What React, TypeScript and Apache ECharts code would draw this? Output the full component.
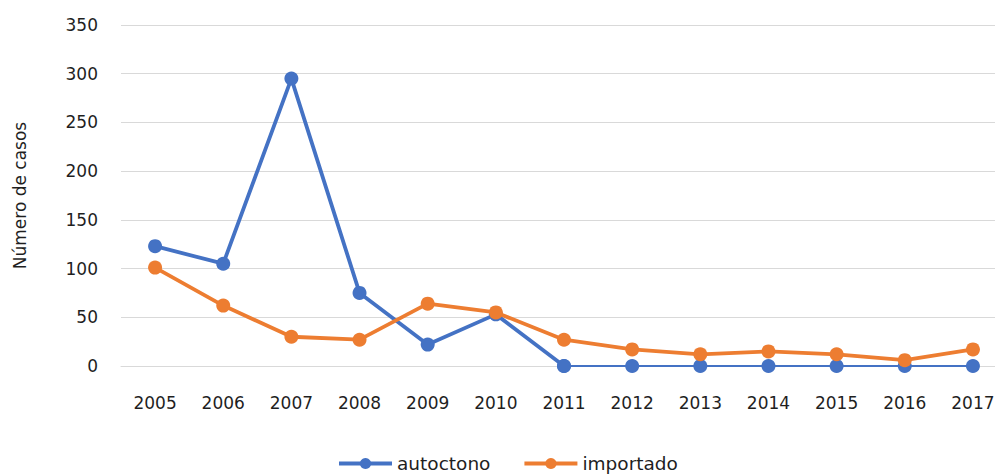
import React, { useEffect, useRef } from "react";
import * as echarts from "echarts";

const years = ["2005", "2006", "2007", "2008", "2009", "2010", "2011", "2012", "2013", "2014", "2015", "2016", "2017"];
const autoctono = [123, 105, 295, 75, 22, 53, 0, 0, 0, 0, 0, 0, 0];
const importado = [101, 62, 30, 27, 64, 55, 27, 17, 12, 15, 12, 6, 17];
const yTicks = { min: 0, max: 350, interval: 50 };

const BLUE = "#4472C4";
const ORANGE = "#ED7D31";
const FONT = "DejaVu Sans";
const TEXT = "#1f1f1f";

export default function App() {
  const ref = useRef<HTMLDivElement>(null);
  useEffect(() => {
    document.body.style.margin = "0";
    if (!ref.current) return;
    const chart = echarts.init(ref.current, undefined, { renderer: "svg" });

    // first index from which the series stays at zero (drawn thinner, like a line clipped at the axis)
    let flatStart = autoctono.length;
    while (flatStart > 0 && autoctono[flatStart - 1] === 0) flatStart--;
    const mainPart = autoctono.map((v, i) => (i <= flatStart ? v : null));
    const flatPart = autoctono.map((v, i) => (i >= flatStart ? v : null));

    chart.setOption({
      animation: false,
      textStyle: { fontFamily: FONT },
      grid: { left: 121, right: 0, top: 25, bottom: 110 },
      legend: {
        left: 332,
        top: 449,
        itemWidth: 53,
        itemHeight: 14,
        itemGap: 32,
        data: ["autoctono", "importado"],
        lineStyle: { width: 4 },
        textStyle: { fontSize: 18.5, lineHeight: 18, color: TEXT, fontFamily: FONT },
      },
      xAxis: {
        type: "category",
        data: years,
        boundaryGap: true,
        axisLine: { show: true, lineStyle: { color: "#d9d9d9", width: 1 } },
        axisTick: { show: false },
        axisLabel: { fontSize: 17, color: TEXT, margin: 28, fontFamily: FONT },
      },
      yAxis: {
        type: "value",
        min: yTicks.min,
        max: yTicks.max,
        interval: yTicks.interval,
        name: "Número de casos",
        nameLocation: "middle",
        nameGap: 93,
        nameTextStyle: { fontSize: 17, color: TEXT, fontFamily: FONT },
        axisLine: { show: false },
        axisTick: { show: false },
        splitLine: { lineStyle: { color: "#d9d9d9", width: 1 } },
        axisLabel: { fontSize: 17, color: TEXT, margin: 23, fontFamily: FONT },
      },
      series: [
        {
          name: "autoctono",
          type: "line",
          data: mainPart,
          symbol: "circle",
          symbolSize: 14,
          connectNulls: false,
          lineStyle: { color: BLUE, width: 3.8 },
          itemStyle: { color: BLUE },
          z: 2,
        },
        {
          name: "autoctono",
          type: "line",
          data: flatPart,
          symbol: "circle",
          symbolSize: 14,
          lineStyle: { color: BLUE, width: 2 },
          itemStyle: { color: BLUE },
          z: 2,
        },
        {
          name: "importado",
          type: "line",
          data: importado,
          symbol: "circle",
          symbolSize: 14,
          lineStyle: { color: ORANGE, width: 3.8 },
          itemStyle: { color: ORANGE },
          z: 3,
        },
      ],
    });
    return () => chart.dispose();
  }, []);
  return (
    <div style={{ width: 995, height: 476, overflow: "hidden", position: "relative" }}>
      <div ref={ref} style={{ width: 1007, height: 476 }} />
    </div>
  );
}
